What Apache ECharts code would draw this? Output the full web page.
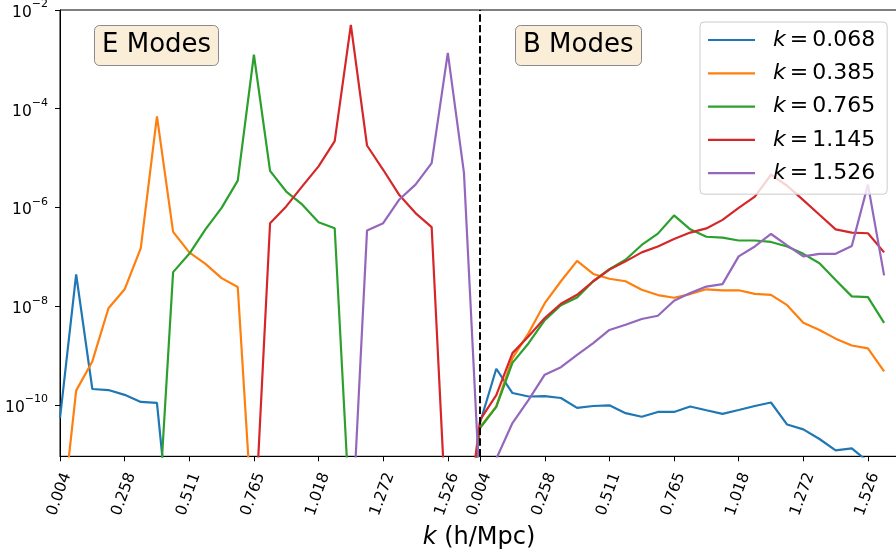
<!DOCTYPE html>
<html><head><meta charset="utf-8">
<script src="https://cdn.jsdelivr.net/npm/echarts@6/dist/echarts.min.js"></script>
<style>html,body{margin:0;padding:0;background:#fff}#c{width:896px;height:554px}</style>
</head><body><div id="c"></div>
<script>
// Tick labels (k in h/Mpc), shown under each panel
const tickText = ['0.004', '0.258', '0.511', '0.765', '1.018', '1.272', '1.526'];
const eTickIdx = [0, 4, 8, 12, 16, 20, 24];       // sample index in E panel
const bTickIdx = [26, 30, 34, 38, 42, 46, 50];    // sample index in B panel
const seriesNames = ['k = 0.068', 'k = 0.385', 'k = 0.765', 'k = 1.145', 'k = 1.526'];
const colors = ['#1f77b4', '#ff7f0e', '#2ca02c', '#d62728', '#9467bd'];

// Values: 26 E-mode samples followed by 26 B-mode samples
const k068 = [
  5.4e-11, 4.4e-8, 2.1e-10, 2.0e-10, 1.6e-10, 1.15e-10, 1.1e-10, 6e-14, 1e-14, 1e-14,
  1e-14, 1e-14, 1e-14, 1e-14, 1e-14, 1e-14, 1e-14, 1e-14, 1e-14, 1e-14,
  1e-14, 1e-14, 1e-14, 1e-14, 1e-14, 1e-14,
  4.4e-11, 5.4e-10, 1.74e-10, 1.48e-10, 1.51e-10, 1.38e-10, 8.7e-11, 9.5e-11, 9.8e-11, 6.8e-11,
  5.75e-11, 7.2e-11, 7.2e-11, 9.3e-11, 7.8e-11, 6.6e-11, 7.9e-11, 9.5e-11, 1.12e-10, 4.0e-11,
  3.2e-11, 2.04e-11, 1.2e-11, 1.32e-11, 7.1e-12, 3.2e-12
];
const k385 = [
  2.0e-13, 1.95e-10, 7.6e-10, 9.1e-9, 2.2e-8, 1.5e-7, 7.0e-5, 3.2e-7, 1.23e-7, 7.2e-8,
  3.7e-8, 2.45e-8, 1.3e-13, 1e-14, 1e-14, 1e-14, 1e-14, 1e-14, 1e-14, 1e-14,
  1e-14, 1e-14, 1e-14, 1e-14, 1e-14, 1e-13,
  3.6e-11, 9.3e-11, 8.9e-10, 2.85e-9, 1.15e-8, 3.2e-8, 8.3e-8, 4.5e-8, 3.6e-8, 3.2e-8,
  2.15e-8, 1.68e-8, 1.48e-8, 1.76e-8, 2.2e-8, 2.1e-8, 2.1e-8, 1.78e-8, 1.7e-8, 1.05e-8,
  4.6e-9, 3.3e-9, 2.2e-9, 1.6e-9, 1.4e-9, 4.8e-10
];
const k765 = [
  1e-14, 1e-14, 1e-14, 1e-14, 1e-14, 1e-14, 1.7e-13, 4.9e-8, 1.15e-7, 3.6e-7,
  9.8e-7, 3.5e-6, 1.24e-3, 5.5e-6, 2.1e-6, 1.14e-6, 5.0e-7, 3.8e-7, 2.3e-13, 1e-14,
  1e-14, 1e-14, 1e-14, 1e-14, 1e-14, 1e-13,
  3.4e-11, 9.1e-11, 7.1e-10, 1.78e-9, 5.2e-9, 1.05e-8, 1.5e-8, 3.2e-8, 5.6e-8, 8.7e-8,
  1.74e-7, 2.95e-7, 6.9e-7, 3.6e-7, 2.55e-7, 2.45e-7, 2.14e-7, 2.14e-7, 2.0e-7, 1.62e-7,
  1.15e-7, 7.4e-8, 3.4e-8, 1.58e-8, 1.52e-8, 4.6e-9
];
const k1145 = [
  1e-14, 1e-14, 1e-14, 1e-14, 1e-14, 1e-14, 1e-14, 1e-14, 1e-14, 1e-14,
  1e-14, 1e-14, 1.5e-13, 4.8e-7, 1.05e-6, 2.7e-6, 6.8e-6, 2.2e-5, 5.0e-3, 1.8e-5,
  5.8e-6, 1.78e-6, 7.7e-7, 4.0e-7, 1e-13, 1.26e-13,
  5.0e-11, 1.58e-10, 1.12e-9, 2.45e-9, 5.75e-9, 1.12e-8, 1.7e-8, 3.2e-8, 5.5e-8, 8.1e-8,
  1.23e-7, 1.62e-7, 2.3e-7, 3.1e-7, 3.76e-7, 5.6e-7, 9.8e-7, 1.66e-6, 4.6e-6, 2.75e-6,
  1.41e-6, 7.1e-7, 3.6e-7, 3.1e-7, 3.0e-7, 1.23e-7
];
const k1526 = [
  1e-14, 1e-14, 1e-14, 1e-14, 1e-14, 1e-14, 1e-14, 1e-14, 1e-14, 1e-14,
  1e-14, 1e-14, 1e-14, 1e-14, 1e-14, 1e-14, 1e-14, 1e-14, 1.0e-13, 3.4e-7,
  4.8e-7, 1.45e-6, 2.9e-6, 7.9e-6, 1.35e-3, 5.0e-6,
  1.5e-12, 8.1e-12, 4.3e-11, 1.26e-10, 4.1e-10, 5.8e-10, 1.03e-9, 1.78e-9, 3.3e-9, 4.2e-9,
  5.5e-9, 6.4e-9, 1.29e-8, 1.84e-8, 2.5e-8, 2.8e-8, 1.02e-7, 1.62e-7, 2.9e-7, 1.7e-7,
  1.02e-7, 1.15e-7, 1.15e-7, 1.66e-7, 2.9e-6, 4.2e-8
];
const yTickVals = [1e-10, 1e-8, 1e-6, 1e-4, 1e-2];
const allSeries = [k068, k385, k765, k1145, k1526];

const FONT = 'DejaVu Sans';
const labelShift = 0.42; // matplotlib centres rotated labels on the tick
const tickIdx = eTickIdx.concat(bTickIdx);
const labelFor = {};
tickIdx.forEach((t, j) => { labelFor[t] = tickText[j % tickText.length]; });

const chart = echarts.init(document.getElementById('c'), null, {renderer: 'canvas'});
const series = allSeries.map((vals, s) => {
  const o = {
    name: seriesNames[s], type: 'line', symbol: 'none', showSymbol: false, clip: true,
    lineStyle: {color: colors[s], width: 2.2}, itemStyle: {color: colors[s]},
    data: vals.map((v, i) => [i, v])
  };
  if (s === allSeries.length - 1) {
    o.markLine = {
      silent: true, symbol: ['none', 'none'], label: {show: false},
      lineStyle: {color: '#000', type: [7.4, 3.2], width: 2},
      data: [{xAxis: bTickIdx[0]}]
    };
  }
  return o;
});

chart.setOption({
  animation: false,
  backgroundColor: '#fff',
  grid: {left: 60, top: 10, right: -2, height: 446.3, show: true, borderColor: '#000', borderWidth: 1, outerBoundsMode: 'none'},
  title: [
    {text: 'E Modes', left: 94, top: 25, padding: [7, 8, 7, 8], backgroundColor: '#faeed9',
     borderColor: '#8a8a8a', borderWidth: 1, borderRadius: 5,
     textStyle: {fontFamily: FONT, fontSize: 26, fontWeight: 'normal', color: '#000', lineHeight: 27}},
    {text: 'B Modes', left: 515, top: 25, padding: [7, 8, 7, 8], backgroundColor: '#faeed9',
     borderColor: '#8a8a8a', borderWidth: 1, borderRadius: 5,
     textStyle: {fontFamily: FONT, fontSize: 26, fontWeight: 'normal', color: '#000', lineHeight: 27}}
  ],
  legend: {
    orient: 'vertical', left: 700, top: 22, padding: [5, 12, 8, 8], itemGap: 7.3,
    icon: 'rect', itemWidth: 47, itemHeight: 2.2, selectedMode: false,
    backgroundColor: 'rgba(255,255,255,0.8)', borderColor: '#cccccc', borderWidth: 1, borderRadius: 4,
    data: seriesNames,
    formatter: n => n.replace(/^k = (.*)$/, '{i|k}{e|=}$1'),
    textStyle: {fontFamily: FONT, fontSize: 22, color: '#000', lineHeight: 26, padding: [0, 0, 0, 13],
      rich: {
        i: {fontFamily: FONT, fontSize: 22, fontStyle: 'italic', color: '#000', lineHeight: 26},
        e: {fontFamily: FONT, fontSize: 22, color: '#000', lineHeight: 26, padding: [0, 4, 0, 4]}
      }}
  },
  xAxis: {
    type: 'value', min: 0, max: 51.86,
    axisLine: {show: true, onZero: false, lineStyle: {color: '#000', width: 1}},
    axisTick: {show: true, length: 5, lineStyle: {color: '#000', width: 1}, customValues: tickIdx},
    axisLabel: {
      customValues: tickIdx.map(t => t + labelShift), rotate: 70, margin: 17,
      fontFamily: FONT, fontSize: 15.5, color: '#000',
      formatter: v => labelFor[Math.round(v - labelShift)] || ''
    },
    splitLine: {show: false},
    name: '{i|k} (h/Mpc)', nameLocation: 'middle', nameGap: 66,
    nameTextStyle: {fontFamily: FONT, fontSize: 24, color: '#000',
      rich: {i: {fontFamily: FONT, fontSize: 24, fontStyle: 'italic', color: '#000'}}}
  },
  yAxis: {
    type: 'log', logBase: 10, min: 9.1e-12, max: 1e-2,
    axisLine: {show: true, onZero: false, lineStyle: {color: '#000', width: 1}},
    axisTick: {show: true, length: 5, lineStyle: {color: '#000', width: 1}, customValues: yTickVals},
    axisLabel: {
      customValues: yTickVals, margin: 12,
      formatter: v => { const e = Math.round(Math.log10(v)); return '{b|10}{s|' + (e < 0 ? '\u2212' : '') + Math.abs(e) + '}'; },
      rich: {
        b: {fontFamily: FONT, fontSize: 15.5, color: '#000', lineHeight: 22, verticalAlign: 'bottom'},
        s: {fontFamily: FONT, fontSize: 11, color: '#000', lineHeight: 12, verticalAlign: 'top'}
      }
    },
    splitLine: {show: false}
  },
  series: series
});
</script>
</body></html>
